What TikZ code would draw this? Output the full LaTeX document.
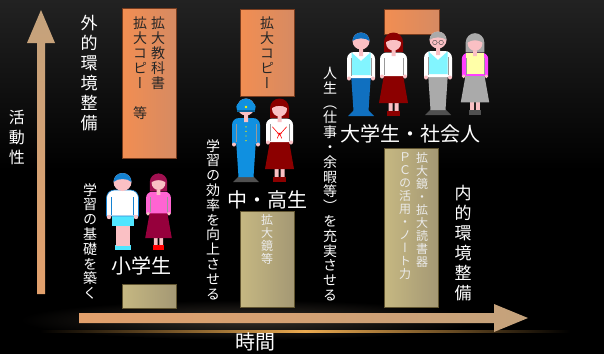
\documentclass[tikz,border=0pt]{standalone}
\usepackage{fontspec}
\newfontfamily\jp{Noto Sans CJK JP}
\newfontfamily\tate[RawFeature=+vert]{Noto Sans CJK JP}
\usetikzlibrary{positioning}

\definecolor{bgtop}{RGB}{34,34,34}
\definecolor{haze}{RGB}{52,46,40}
\definecolor{glow}{RGB}{235,170,80}
\definecolor{axisa}{RGB}{226,160,108}
\definecolor{axisb}{RGB}{196,162,124}
\definecolor{extfill}{RGB}{242,142,82}
\definecolor{extfillb}{RGB}{214,138,98}
\definecolor{extline}{RGB}{120,60,30}
\definecolor{intfill}{RGB}{198,184,130}
\definecolor{intfillb}{RGB}{164,152,116}
\definecolor{intline}{RGB}{96,84,48}
\definecolor{skin}{RGB}{250,192,196}
\definecolor{kidhair}{RGB}{20,130,210}
\definecolor{kidshorts}{RGB}{80,230,255}
\definecolor{girlhair}{RGB}{160,16,80}
\definecolor{girlpink}{RGB}{255,100,210}
\definecolor{girlskirt}{RGB}{150,0,60}
\definecolor{uniform}{RGB}{16,144,224}
\definecolor{shoegray}{RGB}{80,80,80}
\definecolor{darkred}{RGB}{140,0,0}
\definecolor{manblue}{RGB}{16,112,192}
\definecolor{vestcyan}{RGB}{130,245,255}
\definecolor{oldgray}{RGB}{170,170,170}
\definecolor{oldpink}{RGB}{255,64,255}
\definecolor{oldyellow}{RGB}{255,255,168}

\begin{document}
\begin{tikzpicture}[
  x=1pt, y=1pt,
  extbox/.style={draw=extline, line width=.6pt, left color=extfill,
                 right color=extfillb, minimum width=54pt, inner sep=0pt},
  intbox/.style={draw=intline, line width=.6pt, left color=intfill,
                 right color=intfillb, minimum width=54pt, inner sep=0pt},
  boxtext/.style={font=\tate\fontsize{14}{15}\selectfont, text=black!85,
                  align=center, inner sep=0pt},
  boxnote/.style={font=\tate\fontsize{12}{13}\selectfont, text=white!92!black,
                  align=center, inner sep=0pt},
  vnote/.style={font=\tate\fontsize{14}{14.8}\selectfont, text=white,
                align=center, inner sep=0pt, anchor=north},
  vlabel/.style={font=\tate\fontsize{17}{20}\selectfont, text=white,
                 align=center, inner sep=0pt, anchor=north},
  stage/.style={font=\jp\fontsize{20}{24}\selectfont, text=white, inner sep=0pt},
  pics/man/.style args={#1/#2/#3/#4/#5}{code={
    \fill[#5] (-13,0) -- (13,0) -- (7,6) -- (-7,6) -- cycle;
    \fill[#4] (-10,43) -- (10,43) -- (7.5,5) -- (-7.5,5) -- cycle;
    \fill[#2] (-14,38) -- (-14,57) to[out=90,in=180] (-7,64) -- (7,64)
      to[out=0,in=90] (14,57) -- (14,38) -- cycle;
    \fill[#3] (-9.5,41) -- (-9.5,63.5) -- (0,55) -- (9.5,63.5) -- (9.5,41) -- cycle;
    \draw[black!40, line width=.3pt] (-10,40) -- (-10,58) (10,40) -- (10,58);
    \fill[skin] (-12,37.5) circle (2) (12,37.5) circle (2) (-2,60) rectangle (2,67);
    \fill[skin] (0,75) circle (8.5);
    \fill[#1] (-8.5,75) arc (180:0:8.5) .. controls (5,78.5) and (-5,78.5) .. (-8.5,75) -- cycle;
  }},
  pics/woman/.style args={#1/#2/#3/#4/#5}{code={
    \fill[#1] (-9.5,64) -- (-9.5,74) arc (180:0:9.5) -- (9.5,64) -- cycle;
    \fill[skin] (-5,4) rectangle (-1,15) (1,4) rectangle (5,15);
    \fill[#5] (-6.5,0) rectangle (6.5,5);
    \fill[#4] (-9,44) -- (9,44) -- (14.5,13) -- (-14.5,13) -- cycle;
    \fill[#2] (-13.5,40) -- (-13.5,57) to[out=90,in=180] (-7,63.5) -- (7,63.5)
      to[out=0,in=90] (13.5,57) -- (13.5,40) -- cycle;
    \fill[#3] (-9,42) rectangle (9,63);
    \draw[black!40, line width=.3pt] (-9.5,41) -- (-9.5,58) (9.5,41) -- (9.5,58);
    \fill[skin] (-11.5,39.5) circle (2) (11.5,39.5) circle (2) (-2,60) rectangle (2,66);
    \fill[skin] (0,73) circle (7.5);
    \fill[#1] (-7.8,74) arc (180:0:7.8) .. controls (3,77) and (-3,77) .. (-7.8,74) -- cycle;
  }},
  pics/boy/.style args={#1/#2/#3/#4}{code={
    \fill[#4] (-8,0) rectangle (8,5);
    \fill[skin] (-7,4) rectangle (7,26);
    \fill[#3] (-11,24) rectangle (11,36);
    \fill[#2, draw=#1, line width=.6pt] (-16,34) -- (-16,52) to[out=90,in=180] (-8,60)
      -- (8,60) to[out=0,in=90] (16,52) -- (16,34) -- cycle;
    \draw[#1, line width=.4pt] (-11,35) -- (-11,53) (11,35) -- (11,53);
    \fill[skin] (-13.5,33) circle (2.2) (13.5,33) circle (2.2);
    \fill[skin] (0,68) circle (9);
    \fill[#1] (-9,68) arc (180:0:9) .. controls (5,72) and (-5,72) .. (-9,68) -- cycle;
  }},
  pics/schoolboy/.style={code={
    \pic {man=uniform/uniform/uniform/uniform/shoegray};
    \fill[uniform] (-9.5,77) -- (9.5,77) -- (10.5,82) to[out=90,in=0] (0,86)
      to[out=180,in=90] (-10.5,82) -- cycle;
    \fill[uniform!70!black] (-9.5,76) rectangle (9.5,78);
    \fill[yellow] (0,81.5) circle (1.5);
    \foreach \y in {45,50,...,60} \fill[yellow] (0,\y) circle (.8);
  }},
  pics/schoolgirl/.style={code={
    \pic {woman=darkred/white/white/darkred/darkred};
    \draw[red, line width=.6pt] (-8,62) -- (0,53) -- (8,62);
    \draw[red, line width=.6pt] (-3,55) -- (3,55) (0,55) -- (-2.5,49) (0,55) -- (2.5,49);
  }},
  pics/oldman/.style={code={
    \pic {man=oldgray/white/vestcyan/oldgray/shoegray};
    \draw[gray!60!black, line width=.4pt] (-3.2,74) circle (2.3) (3.2,74) circle (2.3)
      (-0.9,74) -- (0.9,74);
  }},
]
  \useasboundingbox (0,0) rectangle (604,-354);
  \fill[black] (0,0) rectangle (604,-354);
  \shade[top color=bgtop, bottom color=black] (0,0) rectangle (604,-170);
  \shade[inner color=haze, outer color=black] (250,-320) ellipse (230 and 20);
  \shade[left color=black, right color=black, middle color=glow] (40,-330) rectangle (570,-332.5);

  \shade[bottom color=axisa, top color=axisb] (37,-294) -- (37,-43) -- (27,-43)
    -- (41,-10) -- (55,-43) -- (45,-43) -- (45,-294) -- cycle;
  \shade[left color=axisa, right color=axisb] (79,-313) -- (494,-313) -- (494,-304)
    -- (528,-318) -- (494,-332) -- (494,-323) -- (79,-323) -- cycle;

  \node[extbox, minimum height=150pt] (ext1) at (149,-83) {};
  \node[extbox, minimum height=87pt] (ext2) at (267,-52.5) {};
  \node[extbox, minimum width=55pt, minimum height=25pt] (ext3) at (411.5,-21.5) {};
  \node[intbox, minimum height=24pt] (int1) at (149,-296) {};
  \node[intbox, minimum height=96pt] (int2) at (267,-259) {};
  \node[intbox, minimum height=159pt] (int3) at (411,-227.5) {};

  \node[boxtext, anchor=north, below=9pt of ext1.north, xshift=9pt] (ext1r) {拡\\大\\教\\科\\書};
  \node[boxtext, anchor=north, below=9pt of ext1.north, xshift=-9pt] (ext1l) {拡\\大\\コ\\ピ\\ー\\　\\等};
  \node[boxtext, below=8pt of ext2.north] (ext2t) {拡\\大\\コ\\ピ\\ー};
  \node[boxnote, below=4pt of int2.north] (int2t) {拡\\大\\鏡\\等};
  \node[boxnote, below=5pt of int3.north, xshift=11pt] (int3r) {拡\\大\\鏡\\・\\拡\\大\\読\\書\\器};
  \node[boxnote, below=5pt of int3.north, xshift=-6pt] (int3l) {Ｐ\\Ｃ\\の\\活\\用\\・\\ノ\\ー\\ト\\力};

  \pic at (122.5,-250) {boy=kidhair/white/kidshorts/kidshorts};
  \pic[scale=.917] at (158.5,-250) {woman=girlhair/girlpink/girlpink/girlskirt/red};
  \pic[scale=.92] at (246,-182) {schoolboy};
  \pic[scale=.89] at (279.5,-182) {schoolgirl};
  \pic at (361,-116) {man=manblue/white/vestcyan/manblue/manblue};
  \pic at (393.5,-116) {woman=darkred/white/white/darkred/darkred};
  \pic[scale=.98] at (438,-115) {oldman};
  \pic[scale=.98] at (475,-115) {woman=oldgray/oldpink/oldyellow/oldgray/shoegray};

  \node[vlabel, font=\tate\fontsize{16}{20}\selectfont] (act) at (17,-110) {活\\動\\性};
  \node[vlabel] (outer) at (89,-15) {外\\的\\環\\境\\整\\備};
  \node[vlabel] (inner) at (463,-185) {内\\的\\環\\境\\整\\備};
  \node[vnote] (basic) at (90,-183) {学\\習\\の\\基\\礎\\を\\築\\く};
  \node[vnote] (effic) at (213,-139) {学\\習\\の\\効\\率\\を\\向\\上\\さ\\せ\\る};
  \node[vnote] (life) at (330,-67) {人\\生\\（\\仕\\事\\・\\余\\暇\\等\\）\\を\\充\\実\\さ\\せ\\る};

  \node[stage] (elem) at (141,-266) {小学生};
  \node[stage] (high) at (267,-200) {中・高生};
  \node[stage] (adult) at (410,-134) {大学生・社会人};
  \node[stage] (time) at (255,-342) {時間};
\end{tikzpicture}
\end{document}
